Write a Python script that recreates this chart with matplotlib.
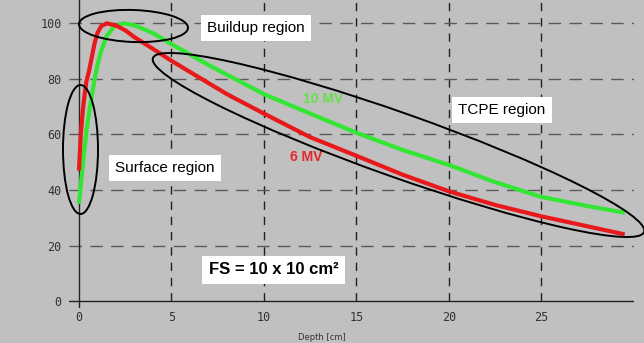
import matplotlib
matplotlib.use("Agg")
import matplotlib.pyplot as plt
from matplotlib.patches import Ellipse

# Data
depth_6mv = [0.0, 0.1, 0.2, 0.3, 0.4, 0.55, 0.7, 0.85, 1.0, 1.2, 1.5, 2.0, 2.5, 3.0, 4.0,
             5.0, 6.0, 7.0, 8.0, 9.0, 10.0, 12.5, 15.0, 17.5, 20.0, 22.5, 25.0, 27.5, 29.5]
dose_6mv = [47, 60, 68, 74, 79, 83, 88, 93, 96.5, 99, 100, 99.2, 97.5, 95, 90.8,
            86.5, 82.5, 78.5, 74.5, 71, 67.5, 59, 52.3, 45.5, 39.5, 34.6, 30.5, 26.9, 24]
depth_10mv = [0.0, 0.1, 0.25, 0.4, 0.55, 0.7, 0.85, 1.0, 1.2, 1.5, 1.9, 2.4, 3.0, 4.0,
              5.0, 6.0, 7.0, 8.0, 9.0, 10.0, 12.5, 15.0, 17.5, 20.0, 22.5, 25.0, 27.5, 29.5]
dose_10mv = [35, 42, 52, 61, 68, 74, 80, 85, 90, 95.5, 98.8, 100, 99.3, 96.5,
             92.5, 88.8, 85, 81.5, 78, 74.5, 67.5, 60.6, 54.4, 49, 42.8, 37.5, 34.2, 31.8]
x_ticks = [0, 5, 10, 15, 20, 25]
y_ticks = [0, 20, 40, 60, 80, 100]

BG = "#c0c0c0"
fig = plt.figure(figsize=(6.44, 3.43), dpi=100, facecolor=BG)
ax = fig.add_axes([0.1068, 0.102, 0.8776, 0.898], facecolor=BG)
xmin, xmax = -0.55, 30.0
ymin, ymax = -2.5, 108.4
ax.set_xlim(xmin, xmax)
ax.set_ylim(ymin, ymax)
for s in ax.spines.values():
    s.set_visible(False)

# grid
for x in x_ticks[1:]:
    ax.plot([x, x], [0, ymax], color="#202020", lw=1.0, linestyle=(0, (6, 5)), zorder=1)
for y in y_ticks[1:]:
    ax.plot([xmin, xmax], [y, y], color="#5a5a5a", lw=1.0, linestyle=(0, (9, 6)), zorder=1)
# axes lines
ax.plot([xmin, xmax], [0, 0], color="#222222", lw=1.0, zorder=2)
ax.plot([0, 0], [ymin, ymax], color="#222222", lw=1.0, zorder=2)

ax.set_xticks(x_ticks)
ax.set_yticks(y_ticks)
ax.tick_params(length=0, labelsize=8.5, labelcolor="#333333")
ax.tick_params(axis="x", pad=2)
ax.tick_params(axis="y", pad=5)
for lab in ax.get_xticklabels() + ax.get_yticklabels():
    lab.set_family("DejaVu Sans Mono")

# curves
ax.plot(depth_10mv, dose_10mv, color="#33e633", lw=3.0, solid_capstyle="butt",
        solid_joinstyle="round", zorder=3)
ax.plot(depth_6mv, dose_6mv, color="#e8191b", lw=3.0, solid_capstyle="butt",
        solid_joinstyle="round", zorder=4)

fig.text(322 / 644, 1 - 337 / 343, "Depth [cm]", fontsize=6, color="#333333",
         ha="center", va="center", family="DejaVu Sans")

# ellipses (annotation shapes, in pixel space of figure)
def ell(cx, cy, w, h, ang):
    e = Ellipse((cx / 100, (343 - cy) / 100), w / 100, h / 100, angle=ang,
                transform=fig.dpi_scale_trans, fill=False, edgecolor="black", lw=1.4, zorder=5)
    fig.add_artist(e)

ell(133.5, 26, 109, 32, -2)
ell(80.5, 149.5, 35, 129, 0)
ell(398.5, 145, 521, 64, -19.5)

fnt = "Liberation Sans"
def lbl(x, y, s, size=11, weight="normal", color="black", box=True):
    kw = {}
    if box:
        kw["bbox"] = dict(boxstyle="square,pad=0.4", facecolor="white", edgecolor="none")
    ax.text(x, y, s, fontsize=size, fontweight=weight, color=color, family=fnt,
            ha="center", va="center", zorder=6, **kw)

lbl(9.57, 98.3, "Buildup region")
lbl(4.65, 47.9, "Surface region")
lbl(22.86, 68.8, "TCPE region")
lbl(10.54, 11.2, "FS = 10 x 10 cm²", size=12, weight="bold")
lbl(13.19, 72.7, "10 MV", size=10, weight="bold", color="#66e04f", box=False)
lbl(12.27, 51.9, "6 MV", size=10, weight="bold", color="#e5262a", box=False)

fig.savefig("out.png", dpi=100, facecolor=BG)
